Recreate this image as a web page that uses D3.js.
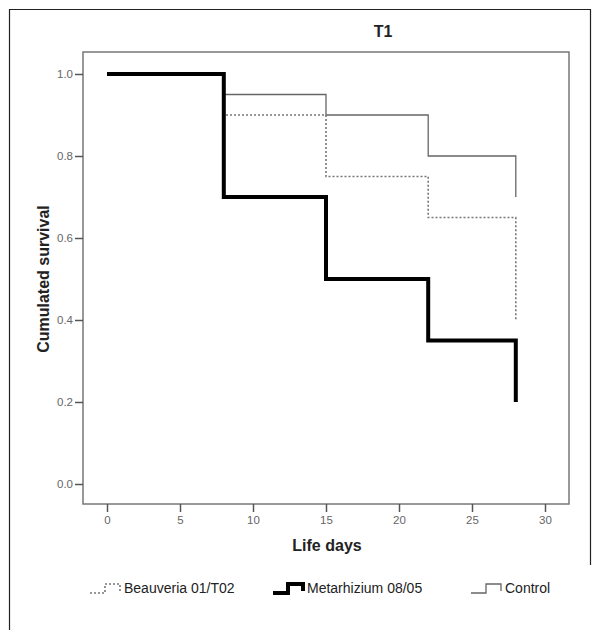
<!DOCTYPE html>
<html>
<head>
<meta charset="utf-8">
<script src="https://cdn.jsdelivr.net/npm/d3@7"></script>
<style>
  body { margin: 0; background: #fff; }
  svg { font-family: Arial, "Liberation Sans", sans-serif; }
</style>
</head>
<body>
<svg width="600" height="630"></svg>
<script>
// survival curves (Kaplan-Meier steps)
var days = [0, 8, 15, 22, 28];
var beauveria = [1.0, 0.9, 0.75, 0.65, 0.4];
var metarhizium = [1.0, 0.7, 0.5, 0.35, 0.2];
var control = [1.0, 0.95, 0.9, 0.8, 0.7];
var xTicks = [0, 5, 10, 15, 20, 25, 30];
var yTicks = [0.0, 0.2, 0.4, 0.6, 0.8, 1.0];
var seriesNames = ["Beauveria 01/T02", "Metarhizium 08/05", "Control"];

var svg = d3.select("svg");

// outer frame
svg.append("path")
    .attr("d", "M9.5,630 V9.5 H590.5 V565")
    .attr("fill", "none")
    .attr("stroke", "#222")
    .attr("stroke-width", 1.2);

var x = d3.scaleLinear().domain([0, 30]).range([107, 545]);
var y = d3.scaleLinear().domain([0, 1]).range([484, 74]);

// plot box
svg.append("rect")
    .attr("x", 83).attr("y", 52)
    .attr("width", 569 - 83).attr("height", 504 - 52)
    .attr("fill", "none")
    .attr("stroke", "#777")
    .attr("stroke-width", 1.5);

var xAxis = svg.append("g")
    .attr("transform", "translate(0,504)")
    .call(d3.axisBottom(x).tickValues(xTicks).tickSize(8).tickPadding(4).tickFormat(d3.format("d")));
var yAxis = svg.append("g")
    .attr("transform", "translate(83,0)")
    .call(d3.axisLeft(y).tickValues(yTicks).tickSize(8).tickPadding(2).tickFormat(d3.format(".1f")));

[xAxis, yAxis].forEach(function(a) {
    a.select(".domain").remove();
    a.selectAll("line").attr("stroke", "#555").attr("stroke-width", 1.5);
    a.selectAll("text").attr("fill", "#666").attr("font-size", "11.5px")
        .attr("font-family", "Arial, 'Liberation Sans', sans-serif");
});

// titles
svg.append("text")
    .attr("x", 383).attr("y", 37)
    .attr("text-anchor", "middle")
    .attr("font-size", "16px").attr("font-weight", "bold")
    .attr("fill", "#222")
    .text("T1");

svg.append("text")
    .attr("x", 327).attr("y", 551)
    .attr("text-anchor", "middle")
    .attr("font-size", "16px").attr("font-weight", "bold")
    .attr("fill", "#222")
    .text("Life days");

svg.append("text")
    .attr("transform", "translate(49,279) rotate(-90)")
    .attr("text-anchor", "middle")
    .attr("font-size", "16px").attr("font-weight", "bold")
    .attr("fill", "#222")
    .text("Cumulated survival");

var line = d3.line()
    .x(function(d) { return x(d[0]); })
    .y(function(d) { return y(d[1]); })
    .curve(d3.curveStepAfter);

function pts(vals) {
    return days.map(function(t, i) { return [t, vals[i]]; });
}

var styles = [
    { vals: beauveria, stroke: "#777", width: 1.6, dash: "2,2" },
    { vals: metarhizium, stroke: "#000", width: 4, dash: null },
    { vals: control, stroke: "#666", width: 1.3, dash: null }
];

var drawOrder = [2, 0, 1];
drawOrder.forEach(function(i) {
    var s = styles[i];
    svg.append("path")
        .attr("d", line(pts(s.vals)))
        .attr("fill", "none")
        .attr("stroke", s.stroke)
        .attr("stroke-width", s.width)
        .attr("stroke-dasharray", s.dash);
});

// legend
var legendX = [90, 273, 471];
var legend = svg.append("g");
seriesNames.forEach(function(name, i) {
    var s = styles[i];
    var x0 = legendX[i];
    legend.append("path")
        .attr("d", "M" + x0 + ",593 H" + (x0 + 15) + " V584 H" + (x0 + 30) + " V591")
        .attr("fill", "none")
        .attr("stroke", s.stroke)
        .attr("stroke-width", s.width)
        .attr("stroke-dasharray", s.dash);
    legend.append("text")
        .attr("x", x0 + 34).attr("y", 593)
        .attr("font-size", "14px")
        .attr("fill", "#222")
        .text(name);
});
</script>
</body>
</html>
